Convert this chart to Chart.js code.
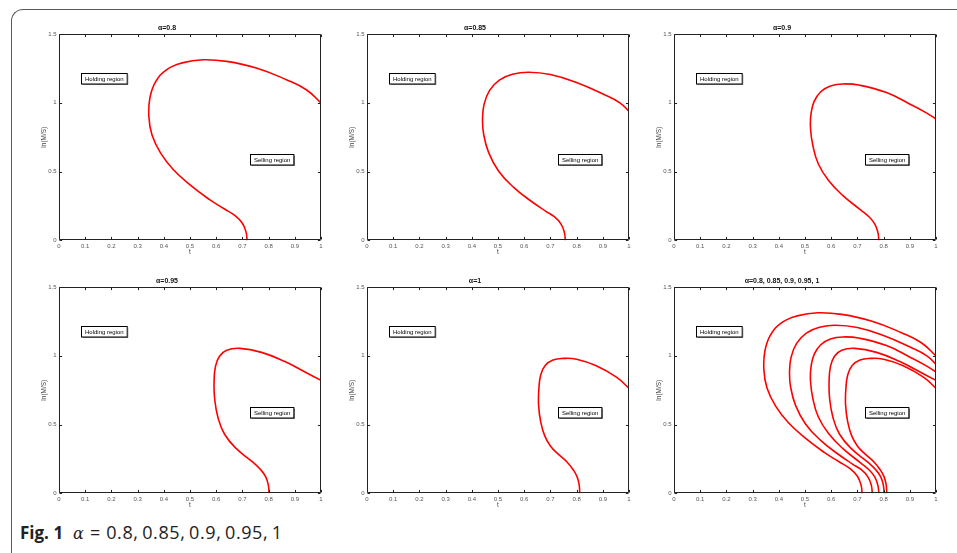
<!DOCTYPE html>
<html><head><meta charset="utf-8">
<script src="https://cdn.jsdelivr.net/npm/chart.js@4.4.0/dist/chart.umd.min.js"></script>
<style>
html,body{margin:0;padding:0;background:#fff;width:957px;height:553px;overflow:hidden;}
#frame{position:absolute;left:11px;top:9px;width:1000px;height:600px;border-left:1.5px solid #5a5a5a;border-top:1.5px solid #5a5a5a;border-top-left-radius:12px;}
canvas{position:absolute;}
#cap{position:absolute;left:20px;top:520px;font-family:'Open Sans';font-size:17px;color:#222;white-space:nowrap;}
#cap b{font-weight:700;}
#cap i{font-family:'DejaVu Serif';font-style:italic;font-size:16px;margin-left:10px;}
#cap .eq{margin:0 6px 0 6px;font-size:18px;}
#cap .nums{font-size:18px;letter-spacing:0.6px;}
</style></head><body>
<div id="frame"></div>
<canvas id="c1" width="314" height="250" style="left:13px;top:14px"></canvas>
<canvas id="c2" width="314" height="250" style="left:321px;top:14px"></canvas>
<canvas id="c3" width="314" height="250" style="left:628px;top:14px"></canvas>
<canvas id="c4" width="314" height="250" style="left:13px;top:267px"></canvas>
<canvas id="c5" width="314" height="250" style="left:321px;top:267px"></canvas>
<canvas id="c6" width="314" height="250" style="left:628px;top:267px"></canvas>
<div id="cap"><b>Fig. 1</b><i>α</i><span class="eq">=</span><span class="nums">0.8,&#8201;0.85,&#8201;0.9,&#8201;0.95,&#8201;1</span></div>
<script>
// ---- data (t, ln(M/S)) ----
const t080 = [0.718,0.714,0.700,0.672,0.630,0.575,0.499,0.436,0.388,0.355,0.343,0.347,0.368,0.410,0.470,0.550,0.640,0.753,0.868,0.944,1.000];
const v080 = [0.000,0.060,0.125,0.180,0.230,0.296,0.405,0.515,0.634,0.766,0.900,1.035,1.150,1.240,1.290,1.313,1.301,1.253,1.168,1.095,0.999];
const t085 = [0.757,0.753,0.740,0.715,0.680,0.623,0.560,0.502,0.464,0.445,0.441,0.447,0.468,0.505,0.555,0.617,0.700,0.802,0.903,0.965,1.000];
const v085 = [0.000,0.060,0.120,0.172,0.215,0.290,0.385,0.505,0.640,0.775,0.880,0.990,1.090,1.165,1.207,1.222,1.205,1.146,1.062,1.000,0.938];
const t090 = [0.782,0.778,0.766,0.745,0.712,0.645,0.590,0.551,0.530,0.521,0.523,0.535,0.560,0.597,0.645,0.710,0.811,0.901,0.965,1.000];
const v090 = [0.000,0.060,0.120,0.170,0.222,0.325,0.435,0.555,0.690,0.815,0.920,1.010,1.080,1.122,1.137,1.127,1.074,0.990,0.925,0.882];
const t095 = [0.802,0.799,0.789,0.770,0.741,0.677,0.632,0.607,0.594,0.592,0.597,0.612,0.640,0.690,0.773,0.862,0.939,1.000];
const v095 = [0.000,0.060,0.120,0.172,0.225,0.325,0.430,0.550,0.690,0.810,0.920,0.995,1.040,1.054,1.025,0.958,0.882,0.822];
const t100 = [0.812,0.810,0.802,0.787,0.765,0.730,0.700,0.678,0.663,0.655,0.656,0.663,0.680,0.710,0.750,0.800,0.875,0.952,1.000];
const v100 = [0.000,0.060,0.120,0.172,0.225,0.285,0.345,0.420,0.520,0.640,0.760,0.860,0.930,0.970,0.981,0.975,0.928,0.845,0.764];

const alphas = ['0.8','0.85','0.9','0.95','1'];
const panelTitles = ['α=0.8','α=0.85','α=0.9','α=0.95','α=1','α=0.8, 0.85, 0.9, 0.95, 1'];
const xTicks = [0,0.1,0.2,0.3,0.4,0.5,0.6,0.7,0.8,0.9,1];
const yTicks = [0,0.5,1,1.5];
const regionLabels = ['Holding region','Selling region'];

const curveT = [t080,t085,t090,t095,t100];
const curveV = [v080,v085,v090,v095,v100];
const pts = (ts, vs) => ts.map((t,i)=>({x:t,y:vs[i]}));

const matlab = {
  id:'matlab',
  afterDraw(chart){
    const {ctx, chartArea:a, scales:{x,y}} = chart;
    ctx.save();
    ctx.strokeStyle='#222'; ctx.lineWidth=1;
    const L=Math.round(a.left)+0.5, R=Math.round(a.right)-0.5, T=Math.round(a.top)+0.5, B=Math.round(a.bottom)-0.5;
    ctx.beginPath(); ctx.rect(L,T,R-L,B-T); ctx.stroke();
    ctx.beginPath();
    const tl=2.6;
    xTicks.forEach(v=>{const px=Math.round(x.getPixelForValue(v))+0.5; ctx.moveTo(px,B); ctx.lineTo(px,B-tl); ctx.moveTo(px,T); ctx.lineTo(px,T+tl);});
    yTicks.forEach(v=>{const py=Math.round(y.getPixelForValue(v))+0.5; ctx.moveTo(L,py); ctx.lineTo(L+tl,py); ctx.moveTo(R,py); ctx.lineTo(R-tl,py);});
    ctx.stroke();
    const boxes=[{text:regionLabels[0],t:0.0855,v:1.18},{text:regionLabels[1],t:0.73,v:0.592}];
    ctx.font='6px "Liberation Sans", Arial, sans-serif';
    ctx.textBaseline='middle';
    boxes.forEach(b=>{
      const w=ctx.measureText(b.text).width+7, h=10.5;
      const bx=Math.round(x.getPixelForValue(b.t))+0.5, by=Math.round(y.getPixelForValue(b.v)-h/2)+0.5;
      ctx.fillStyle='#fff'; ctx.fillRect(bx,by,w,h);
      ctx.strokeStyle='#000'; ctx.lineWidth=1; ctx.strokeRect(bx,by,w,h);
      ctx.beginPath(); ctx.moveTo(bx+1,by+h+0.5); ctx.lineTo(bx+w+0.5,by+h+0.5); ctx.lineTo(bx+w+0.5,by+1); ctx.strokeStyle='#444'; ctx.stroke();
      ctx.fillStyle='#000'; ctx.fillText(b.text,bx+3.5,by+h/2+0.3);
    });
    ctx.restore();
  }
};

function makeChart(id, title, idxs){
  const datasets = idxs.map(i=>({
    label:'α='+alphas[i], data:pts(curveT[i],curveV[i]), showLine:true, pointRadius:0,
    borderColor:'#ff0000', borderWidth:1.6, tension:0.45, fill:false
  }));
  new Chart(document.getElementById(id), {
    type:'scatter',
    data:{datasets},
    options:{
      responsive:false, animation:false, devicePixelRatio:1,
      layout:{padding:{left:0,right:6,top:0,bottom:0}},
      plugins:{
        legend:{display:false}, tooltip:{enabled:false},
        title:{display:true,text:title,color:'#111',font:{family:'"Liberation Sans", Arial',size:7,weight:'bold',lineHeight:1.2},padding:{top:10,bottom:1.6}}
      },
      scales:{
        x:{type:'linear',min:0,max:1,
          afterBuildTicks:s=>{s.ticks=xTicks.map(v=>({value:v}));},
          afterFit:s=>{s.height=23.6;},
          grid:{display:false,drawTicks:false}, border:{display:false},
          ticks:{padding:2,color:'#555',font:{family:'"Liberation Sans", Arial',size:6},maxRotation:0,autoSkip:false,callback:v=>String(v)},
          title:{display:true,text:'t',color:'#444',font:{family:'"Liberation Sans", Arial',size:6.5},padding:{top:0,bottom:8.2}}
        },
        y:{type:'linear',min:0,max:1.5,
          afterBuildTicks:s=>{s.ticks=yTicks.map(v=>({value:v}));},
          afterFit:s=>{s.width=46;},
          grid:{display:false,drawTicks:false}, border:{display:false},
          ticks:{padding:2.5,color:'#555',font:{family:'"Liberation Sans", Arial',size:6},autoSkip:false,callback:v=>String(v)},
          title:{display:true,text:'ln(M/S)',color:'#444',font:{family:'"Liberation Sans", Arial',size:6.5},padding:{top:27,bottom:0}}
        }
      }
    },
    plugins:[matlab]
  });
}
makeChart('c1',panelTitles[0],[0]);
makeChart('c2',panelTitles[1],[1]);
makeChart('c3',panelTitles[2],[2]);
makeChart('c4',panelTitles[3],[3]);
makeChart('c5',panelTitles[4],[4]);
makeChart('c6',panelTitles[5],[0,1,2,3,4]);
</script>
</body></html>
